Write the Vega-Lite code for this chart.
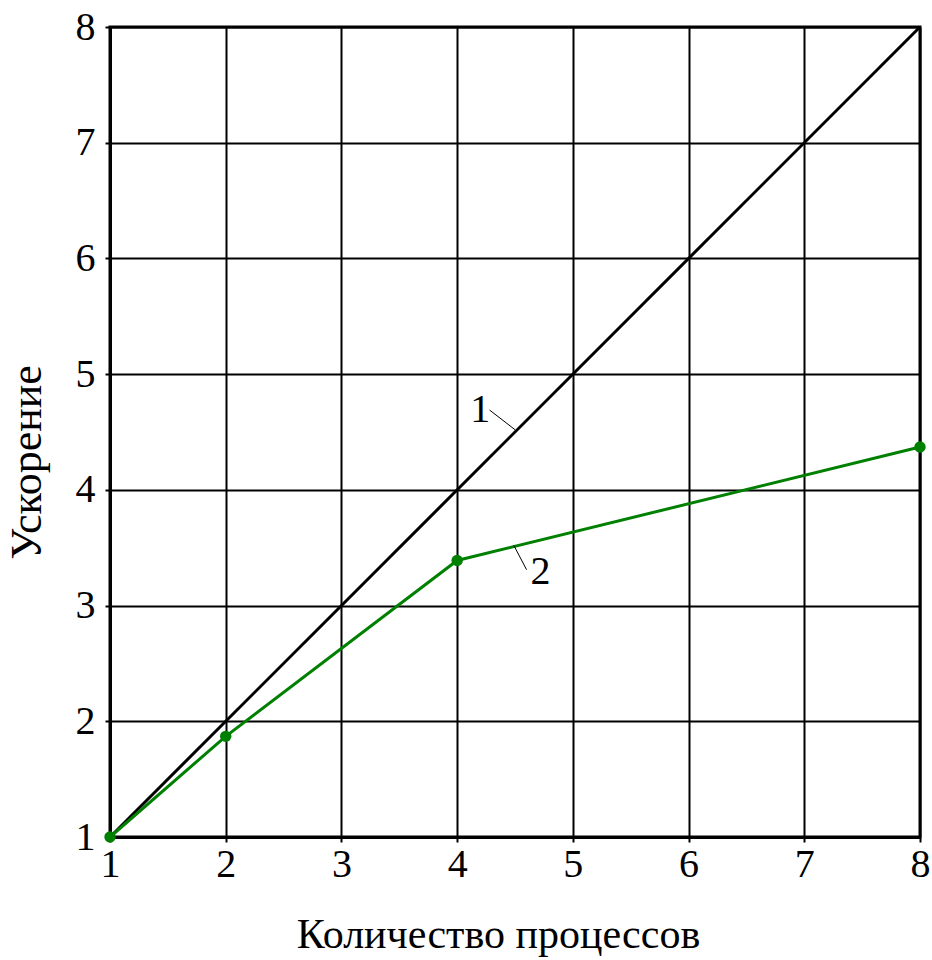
{
  "$schema": "https://vega.github.io/schema/vega-lite/v6.json",
  "width": 810,
  "height": 810,
  "autosize": {"type": "none"},
  "padding": {"left": 110, "top": 27, "right": 12, "bottom": 123},
  "background": "white",
  "config": {
    "font": "Liberation Serif",
    "view": {"stroke": "black", "strokeWidth": 3},
    "axis": {
      "labelFont": "Liberation Serif",
      "titleFont": "Liberation Serif",
      "labelFontSize": 40,
      "titleFontSize": 42,
      "labelColor": "black",
      "titleColor": "black",
      "titleFontWeight": "normal",
      "gridColor": "black",
      "gridWidth": 2,
      "gridOpacity": 1,
      "domainColor": "black",
      "domainWidth": 3,
      "tickColor": "black",
      "tickSize": 5,
      "tickWidth": 2
    }
  },
  "datasets": {
    "ideal": [{"p": 1, "s": 1}, {"p": 8, "s": 8}],
    "real": [{"p": 1, "s": 1}, {"p": 2, "s": 1.87}, {"p": 4, "s": 3.39}, {"p": 8, "s": 4.37}],
    "leaders": [
      {"x1": 4.28, "y1": 4.69, "x2": 4.50, "y2": 4.52},
      {"x1": 4.49, "y1": 3.52, "x2": 4.60, "y2": 3.31}
    ],
    "labels": [
      {"x": 4.20, "y": 4.69, "t": "1"},
      {"x": 4.72, "y": 3.29, "t": "2"}
    ]
  },
  "layer": [
    {
      "data": {"name": "ideal"},
      "mark": {"type": "line", "color": "black", "strokeWidth": 3, "clip": true},
      "encoding": {
        "x": {
          "field": "p", "type": "quantitative",
          "scale": {"domain": [1, 8], "nice": false, "zero": false},
          "axis": {"values": [1, 2, 3, 4, 5, 6, 7, 8], "format": "d", "title": "Количество процессов", "titleX": 388, "titlePadding": 30, "labelPadding": 2, "labelFlush": false}
        },
        "y": {
          "field": "s", "type": "quantitative",
          "scale": {"domain": [1, 8], "nice": false, "zero": false},
          "axis": {"values": [1, 2, 3, 4, 5, 6, 7, 8], "format": "d", "title": "Ускорение", "titleFontSize": 44, "titleY": 435, "titlePadding": 26, "labelPadding": 10, "labelFlush": false}
        }
      }
    },
    {
      "data": {"name": "real"},
      "mark": {"type": "line", "color": "#008000", "strokeWidth": 3, "point": {"filled": true, "size": 130, "color": "#008000", "opacity": 1}},
      "encoding": {
        "x": {"field": "p", "type": "quantitative"},
        "y": {"field": "s", "type": "quantitative"}
      }
    },
    {
      "data": {"name": "leaders"},
      "mark": {"type": "rule", "color": "black", "strokeWidth": 1},
      "encoding": {
        "x": {"field": "x1", "type": "quantitative"},
        "y": {"field": "y1", "type": "quantitative"},
        "x2": {"field": "x2"},
        "y2": {"field": "y2"}
      }
    },
    {
      "data": {"name": "labels"},
      "mark": {"type": "text", "fontSize": 40, "font": "Liberation Serif", "color": "black", "align": "center", "baseline": "middle"},
      "encoding": {
        "x": {"field": "x", "type": "quantitative"},
        "y": {"field": "y", "type": "quantitative"},
        "text": {"field": "t"}
      }
    }
  ]
}
